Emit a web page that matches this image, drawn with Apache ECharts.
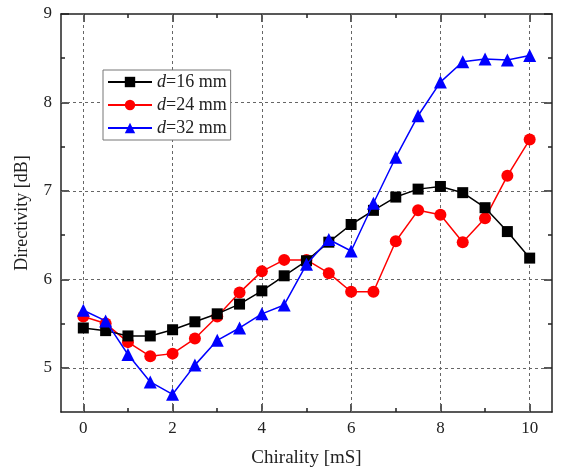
<!DOCTYPE html>
<html>
<head>
<meta charset="utf-8">
<script src="https://cdn.jsdelivr.net/npm/echarts@6/dist/echarts.min.js"></script>
<style>
  html, body { margin: 0; padding: 0; background: #fff; }
  #chart { width: 561px; height: 473px; }
</style>
</head>
<body>
<div id="chart"></div>
<script>
// chirality values (mS)
const chirality = [0, 0.5, 1, 1.5, 2, 2.5, 3, 3.5, 4, 4.5, 5, 5.5, 6, 6.5, 7, 7.5, 8, 8.5, 9, 9.5, 10];
// directivity (dB) per diameter
const d16 = [5.45, 5.42, 5.36, 5.36, 5.43, 5.52, 5.61, 5.72, 5.87, 6.04, 6.21, 6.42, 6.62, 6.78, 6.93, 7.02, 7.05, 6.98, 6.81, 6.54, 6.24];
const d24 = [5.58, 5.50, 5.29, 5.13, 5.16, 5.33, 5.58, 5.85, 6.09, 6.22, 6.22, 6.07, 5.86, 5.86, 6.43, 6.78, 6.73, 6.42, 6.69, 7.17, 7.58];
const d32 = [5.65, 5.53, 5.15, 4.84, 4.70, 5.03, 5.31, 5.45, 5.61, 5.71, 6.17, 6.45, 6.32, 6.86, 7.38, 7.85, 8.23, 8.46, 8.49, 8.48, 8.53];

// tick labels
const xMajor = [0, 2, 4, 6, 8, 10];
const xMinor = [1, 3, 5, 7, 9];
const yMajor = [5, 6, 7, 8, 9];
const yMinor = [5.5, 6.5, 7.5, 8.5];
const xGrid = [0, 2, 4, 6, 8, 10];
const yGrid = [5, 6, 7, 8];

const seriesNames = ["d=16 mm", "d=24 mm", "d=32 mm"];

const font = "Liberation Serif";
const axisColor = "#222";

function pairs(ys) {
  return chirality.map((x, i) => [x, ys[i]]);
}

function xAx(pos, ticks, len, withLine, withLabel) {
  return {
    type: "value", position: pos, min: -0.5, max: 10.5,
    axisLine: { show: withLine, onZero: false, lineStyle: { color: axisColor, width: 1.5 } },
    axisTick: { show: true, inside: true, length: len, customValues: ticks, lineStyle: { color: axisColor, width: 1.5 } },
    axisLabel: withLabel
      ? { show: true, customValues: ticks, fontFamily: font, fontSize: 17, color: axisColor, margin: 8 }
      : { show: false },
    splitLine: { show: false },
    name: withLabel ? "Chirality [mS]" : "",
    nameLocation: "middle", nameGap: 37,
    nameTextStyle: { fontFamily: font, fontSize: 19, color: axisColor },
  };
}

function yAx(pos, ticks, len, withLine, withLabel) {
  return {
    type: "value", position: pos, min: 4.5, max: 9,
    axisLine: { show: withLine, onZero: false, lineStyle: { color: axisColor, width: 1.5 } },
    axisTick: { show: true, inside: true, length: len, customValues: ticks, lineStyle: { color: axisColor, width: 1.5 } },
    axisLabel: withLabel
      ? { show: true, customValues: ticks, fontFamily: font, fontSize: 17, color: axisColor, margin: 9 }
      : { show: false },
    splitLine: { show: false },
    name: withLabel ? "Directivity [dB]" : "",
    nameLocation: "middle", nameGap: 30,
    nameTextStyle: { fontFamily: font, fontSize: 18, color: axisColor },
  };
}

const gridLine = { type: [3, 3], color: "#666", width: 1 };

const chart = echarts.init(document.getElementById("chart"), null, { renderer: "canvas" });
chart.setOption({
  backgroundColor: "#fff",
  animation: false,
  grid: { left: 61, right: 9, top: 14, bottom: 60 },
  legend: {
    orient: "vertical",
    left: 103, top: 70,
    backgroundColor: "#fff",
    borderColor: "#777", borderWidth: 1,
    padding: [3, 4, 3, 4],
    itemWidth: 44, itemHeight: 13, itemGap: 5,
    data: seriesNames,
    formatter: (name) => "{i|d}{n|" + name.slice(1) + "}",
    textStyle: {
      fontFamily: font, fontSize: 18, color: axisColor,
      rich: {
        i: { fontFamily: font, fontSize: 18, fontStyle: "italic", color: axisColor },
        n: { fontFamily: font, fontSize: 18, color: axisColor },
      },
    },
  },
  xAxis: [
    xAx("bottom", xMajor, 8, true, true),
    xAx("bottom", xMinor, 4, false, false),
    xAx("top", xMajor, 8, true, false),
    xAx("top", xMinor, 4, false, false),
  ],
  yAxis: [
    yAx("left", yMajor, 8, true, true),
    yAx("left", yMinor, 4, false, false),
    yAx("right", yMajor, 8, true, false),
    yAx("right", yMinor, 4, false, false),
  ],
  series: [
    {
      name: seriesNames[0], type: "line", data: pairs(d16), z: 4,
      symbol: "rect", symbolSize: 11,
      lineStyle: { color: "#000", width: 1.5 },
      itemStyle: { color: "#000" },
      markLine: {
        silent: true, symbol: ["none", "none"], label: { show: false },
        lineStyle: gridLine, z: 1,
        data: xGrid.map((v) => ({ xAxis: v })).concat(yGrid.map((v) => ({ yAxis: v }))),
      },
    },
    {
      name: seriesNames[1], type: "line", data: pairs(d24), z: 3,
      symbol: "circle", symbolSize: 12,
      lineStyle: { color: "#f00", width: 1.5 },
      itemStyle: { color: "#f00" },
    },
    {
      name: seriesNames[2], type: "line", data: pairs(d32), z: 5,
      symbol: "triangle", symbolSize: 13,
      lineStyle: { color: "#00f", width: 1.5 },
      itemStyle: { color: "#00f" },
    },
  ],
});
</script>
</body>
</html>
